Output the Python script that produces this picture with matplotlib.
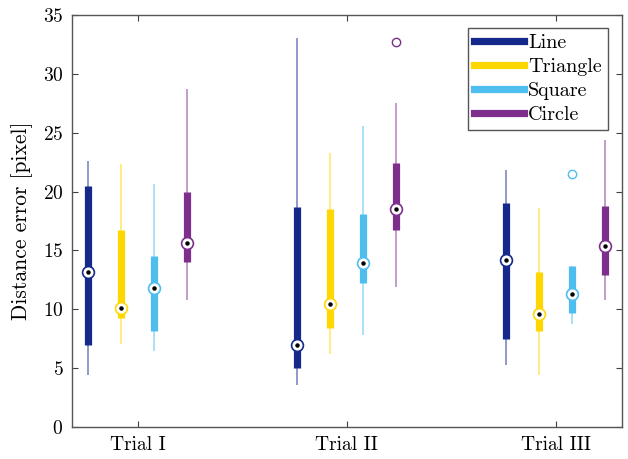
import matplotlib
matplotlib.use("Agg")
import matplotlib.pyplot as plt
import numpy as np

# box statistics (pixel error)
trials = ["Trial I", "Trial II", "Trial III"]
shapes = ["Line", "Triangle", "Square", "Circle"]
colors = ["#15288c", "#ffd700", "#4dbeee", "#7e2f8e"]

whis_hi = {"Line": [22.6, 33.0, 21.8], "Triangle": [22.3, 23.3, 18.6],
           "Square": [20.6, 25.6, 13.7], "Circle": [28.7, 27.5, 24.4]}
q3 = {"Line": [20.5, 18.7, 19.0], "Triangle": [16.7, 18.5, 13.2],
      "Square": [14.5, 18.1, 13.7], "Circle": [20.0, 22.4, 18.8]}
med = {"Line": [13.2, 7.0, 14.2], "Triangle": [10.1, 10.5, 9.6],
       "Square": [11.8, 13.9, 11.3], "Circle": [15.6, 18.5, 15.4]}
q1 = {"Line": [7.0, 5.0, 7.5], "Triangle": [9.3, 8.4, 8.2],
      "Square": [8.2, 12.2, 9.7], "Circle": [14.0, 16.7, 12.9]}
whis_lo = {"Line": [4.4, 3.6, 5.3], "Triangle": [7.1, 6.2, 4.4],
           "Square": [6.5, 7.8, 8.8], "Circle": [10.8, 11.9, 10.8]}
outliers = {"Line": [[], [], []], "Triangle": [[], [], []],
            "Square": [[], [], [21.5]], "Circle": [[], [32.7], []]}

plt.rcParams["font.family"] = "serif"
plt.rcParams["font.serif"] = ["cmr10"]
plt.rcParams["mathtext.fontset"] = "cm"
plt.rcParams["axes.formatter.use_mathtext"] = True

fig = plt.figure(figsize=(6.28, 4.59), dpi=100)
ax = fig.add_axes([0.114, 0.069, 0.876, 0.899])

x = np.arange(1, len(trials) + 1)
step = 0.158
for k, s in enumerate(shapes):
    pos = x + (k - 1.5) * step
    c = colors[k]
    for i, p in enumerate(pos):
        ax.plot([p, p], [whis_lo[s][i], whis_hi[s][i]], color=c, lw=1.1,
                alpha=0.6, solid_capstyle="butt", zorder=2)
        ax.plot([p, p], [q1[s][i], q3[s][i]], color=c, lw=5.2,
                solid_capstyle="butt", zorder=3)
        ax.plot(p, med[s][i], "o", ms=8.5, mfc="white", mec=c, mew=1.2, zorder=4)
        ax.plot(p, med[s][i], "o", ms=2.2, color="black", zorder=5)
        for o in outliers[s][i]:
            ax.plot(p, o, "o", ms=6, mfc="none", mec=c, mew=1.0, zorder=4)
    ax.plot([], [], color=c, lw=5.2, label=s)

ax.set_xlim(0.683, 3.316)
ax.set_ylim(0, 35)
ax.set_xticks(x)
ax.set_xticklabels(trials)
ax.set_yticks(np.arange(0, 36, 5))
ax.set_ylabel("Distance error [pixel]", fontsize=15.5, labelpad=7)
ax.tick_params(direction="in", top=True, right=True, labelsize=14,
               length=4, color="#404040", pad=6)
for sp in ax.spines.values():
    sp.set_color("#555555")
    sp.set_linewidth(1.0)

leg = ax.legend(loc="upper right", fontsize=14.5, handlelength=2.5,
                fancybox=False, framealpha=1, edgecolor="#555555",
                borderpad=0.3, labelspacing=0.3, handletextpad=0.2,
                borderaxespad=0, bbox_to_anchor=(0.975, 0.968))
leg.get_frame().set_linewidth(1.0)

fig.savefig("out.png", dpi=100)
